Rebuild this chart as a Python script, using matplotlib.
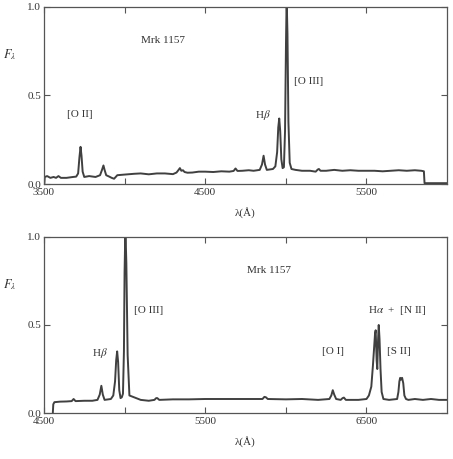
"""
Optical spectrum of Mrk 1157, two wavelength ranges.
"""

import matplotlib
matplotlib.use("Agg")
import matplotlib.pyplot as plt
import matplotlib.ticker as mticker


# ---------------------------------------------------------------------------
# Data
# ---------------------------------------------------------------------------

blue_wave = [
    3502, 3505, 3520, 3540, 3560, 3575, 3590, 3605, 3640, 3680, 3700, 3712,
    3720, 3727, 3733, 3740, 3750, 3780, 3820, 3848, 3860, 3869, 3876, 3886,
    3905, 3920, 3935, 3955, 3980, 4020, 4060, 4100, 4150, 4200, 4250, 4300,
    4322, 4335, 4343, 4352, 4362, 4372, 4390, 4420, 4460, 4500, 4550, 4600,
    4650, 4676, 4688, 4700, 4730, 4770, 4800, 4838, 4852, 4862, 4871, 4882,
    4920, 4935, 4946, 4953, 4959, 4965, 4972, 4980, 4988, 4995, 5001, 5005,
    5010, 5016, 5024, 5035, 5060, 5100, 5150, 5185, 5198, 5205, 5215, 5250,
    5300, 5350, 5400, 5450, 5500, 5550, 5600, 5650, 5700, 5750, 5800, 5840,
    5856, 5860, 5930, 6000,
]
blue_flux = [
    0.000, 0.040, 0.045, 0.035, 0.040, 0.035, 0.045, 0.035, 0.035, 0.040, 0.042, 0.060,
    0.150, 0.210, 0.160, 0.070, 0.040, 0.045, 0.040, 0.050, 0.080, 0.105, 0.080, 0.050,
    0.042, 0.035, 0.030, 0.050, 0.052, 0.055, 0.058, 0.060, 0.055, 0.060, 0.060, 0.056,
    0.065, 0.080, 0.090, 0.075, 0.078, 0.068, 0.064, 0.065, 0.070, 0.070, 0.068, 0.072,
    0.070, 0.074, 0.088, 0.074, 0.075, 0.078, 0.075, 0.080, 0.110, 0.160, 0.110, 0.080,
    0.085, 0.100, 0.180, 0.320, 0.370, 0.300, 0.140, 0.090, 0.095, 0.300, 0.800, 1.050,
    0.850, 0.350, 0.120, 0.085, 0.080, 0.075, 0.075, 0.070, 0.082, 0.085, 0.075, 0.075,
    0.080, 0.075, 0.078, 0.075, 0.075, 0.075, 0.072, 0.075, 0.078, 0.075, 0.078, 0.075,
    0.072, 0.005, 0.005, 0.005,
]

red_wave = [
    4555, 4558, 4565, 4600, 4640, 4672, 4684, 4696, 4750, 4800, 4832, 4846,
    4856, 4865, 4876, 4915, 4930, 4941, 4948, 4954, 4960, 4967, 4975, 4983,
    4990, 4996, 5000, 5005, 5011, 5019, 5030, 5100, 5150, 5185, 5196, 5203,
    5215, 5300, 5400, 5500, 5600, 5700, 5800, 5855, 5867, 5876, 5888, 6000,
    6100, 6200, 6270, 6282, 6291, 6300, 6312, 6340, 6352, 6360, 6372, 6450,
    6500, 6515, 6530, 6540, 6548, 6553, 6557, 6563, 6567, 6572, 6576, 6581,
    6587, 6594, 6605, 6640, 6690, 6698, 6704, 6709, 6714, 6721, 6728, 6735,
    6745, 6760, 6800, 6850, 6900, 6950, 7000,
]
red_flux = [
    0.000, 0.050, 0.062, 0.065, 0.066, 0.068, 0.080, 0.068, 0.070, 0.070, 0.075, 0.105,
    0.155, 0.105, 0.075, 0.080, 0.100, 0.180, 0.300, 0.350, 0.290, 0.130, 0.085, 0.090,
    0.110, 0.350, 0.800, 1.050, 0.850, 0.330, 0.100, 0.075, 0.070, 0.075, 0.085, 0.085,
    0.075, 0.078, 0.078, 0.080, 0.080, 0.080, 0.080, 0.080, 0.092, 0.090, 0.080, 0.078,
    0.080, 0.075, 0.080, 0.100, 0.130, 0.105, 0.080, 0.075, 0.085, 0.088, 0.075, 0.075,
    0.080, 0.100, 0.150, 0.270, 0.380, 0.450, 0.470, 0.300, 0.250, 0.420, 0.500, 0.420,
    0.250, 0.120, 0.080, 0.075, 0.080, 0.120, 0.180, 0.200, 0.190, 0.200, 0.170, 0.100,
    0.080, 0.075, 0.080, 0.075, 0.080, 0.075, 0.075,
]

# (text, x, y) in data units
blue_labels = [
    ("Mrk 1157", 4240, 0.81),
    ("[O II]", 3722, 0.39),
    (r"H$\beta$", 4858, 0.39),
    ("[O III]", 5142, 0.58),
]
red_labels = [
    ("Mrk 1157", 5893, 0.81),
    (r"H$\beta$", 4847, 0.34),
    ("[O III]", 5150, 0.58),
    ("[O I]", 6290, 0.35),
    (r"H$\alpha$  +  [N II]", 6690, 0.58),
    ("[S II]", 6700, 0.35),
]

# ---------------------------------------------------------------------------
# Style
# ---------------------------------------------------------------------------

LINE_COLOR = "#404040"
AXIS_COLOR = "#555555"
TEXT_COLOR = "#333333"

plt.rcParams.update({
    "font.family": ["Liberation Serif", "DejaVu Serif"],
    "mathtext.fontset": "stix",
    "font.size": 8,
    "axes.edgecolor": AXIS_COLOR,
    "axes.linewidth": 0.9,
    "xtick.color": AXIS_COLOR,
    "ytick.color": AXIS_COLOR,
    "xtick.labelcolor": TEXT_COLOR,
    "ytick.labelcolor": TEXT_COLOR,
})


def draw_panel(ax, wave, flux, labels, xlim, majors, minors):
    ax.plot(wave, flux, color=LINE_COLOR, linewidth=1.4, solid_joinstyle="round")
    ax.set_xlim(*xlim)
    ax.set_ylim(0, 1.0)
    ax.xaxis.set_major_locator(mticker.FixedLocator(majors))
    ax.xaxis.set_minor_locator(mticker.FixedLocator(minors))
    ax.yaxis.set_major_locator(mticker.FixedLocator([0.0, 0.5, 1.0]))
    ax.yaxis.set_major_formatter(mticker.FormatStrFormatter("%.1f"))
    ax.tick_params(which="both", direction="in", top=True, right=True,
                   labelsize=8, length=4, width=0.8)
    ax.tick_params(axis="x", pad=3)
    ax.tick_params(axis="y", pad=2)
    for txt, x, y in labels:
        ax.text(x, y, txt, ha="center", va="center", fontsize=8, color=TEXT_COLOR)
    ax.set_xlabel("λ(Å)", fontsize=8, color=TEXT_COLOR, labelpad=7)
    ax.set_ylabel(r"$F_\lambda$", fontsize=9, color=TEXT_COLOR, rotation=0,
                  va="center", ha="center")
    ax.yaxis.set_label_coords(-0.085, 0.73)


fig = plt.figure(figsize=(4.53, 4.59), dpi=100)
ax1 = fig.add_axes([0.097, 0.599, 0.890, 0.386])
ax2 = fig.add_axes([0.097, 0.100, 0.890, 0.384])

draw_panel(ax1, blue_wave, blue_flux, blue_labels, (3500, 6000),
           [3500, 4500, 5500], [4000, 5000])
draw_panel(ax2, red_wave, red_flux, red_labels, (4500, 7000),
           [4500, 5500, 6500], [5000, 6000])

fig.savefig("out.png", dpi=100)
